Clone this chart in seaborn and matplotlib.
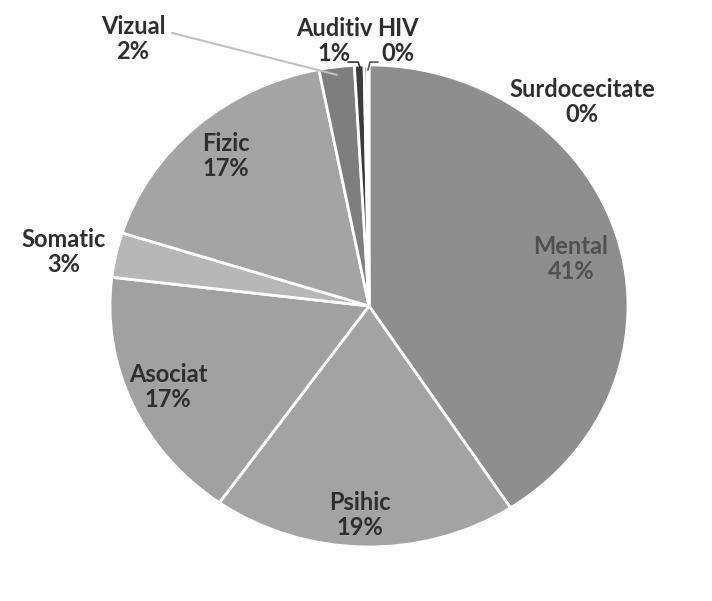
import matplotlib
matplotlib.use("Agg")
import matplotlib.pyplot as plt
import seaborn as sns

# ---- data ----
categories = ["Mental", "Psihic", "Asociat", "Somatic", "Fizic",
              "Vizual", "Auditiv", "HIV", "Surdocecitate"]
values = [40.8, 19.0, 17.1, 3.0, 17.0, 2.2, 0.6, 0.2, 0.1]
pct_labels = ["41%", "19%", "17%", "3%", "17%", "2%", "1%", "0%", "0%"]

# ---- style ----
colors = ["#8e8e8e", "#a3a3a3", "#a1a1a1", "#b7b7b7", "#a4a4a4",
          "#7e7e7e", "#3c3c3c", "#5a5a5a", "#999999"]
text_colors = ["#505050"] + ["#2e2e2e"] * 8
label_pos = [(0.780, 0.195), (-0.035, -0.867), (-0.776, -0.336),
             (-1.178, 0.224), (-0.552, 0.622), (-0.911, 1.108),
             (-0.135, 1.100), (0.112, 1.100), (0.822, 0.846)]

sns.set_theme(style="white")
plt.rcParams["font.family"] = ["Lato", "DejaVu Sans"]

fig = plt.figure(figsize=(7.12, 6.01), dpi=100)
ax = fig.add_axes([0.1545, 0.0899, 0.7275, 0.802])
ax.pie(values, colors=colors, startangle=90, counterclock=False,
       wedgeprops=dict(edgecolor="white", linewidth=2))
ax.set_aspect("auto")
ax.set_xlim(-1, 1)
ax.set_ylim(-1, 1)
ax.axis("off")

for cat, pct, (x, y), tc in zip(categories, pct_labels, label_pos, text_colors):
    ax.text(x, y, f"{cat}\n{pct}", ha="center", va="center", fontsize=17,
            fontweight="bold", color=tc, linespacing=1.1, clip_on=False)

# leader lines
ax.plot([-0.761, -0.124], [1.133, 0.959], color="#c0c0c0", lw=1.5, clip_on=False)
ax.plot([-0.081, -0.042, -0.031], [1.012, 1.012, 0.979], color="#333333", lw=1.2, clip_on=False)
ax.plot([0.035, 0.004, -0.004], [1.012, 1.012, 0.979], color="#555555", lw=1.2, clip_on=False)

fig.savefig("out.png", dpi=100, facecolor="white")
